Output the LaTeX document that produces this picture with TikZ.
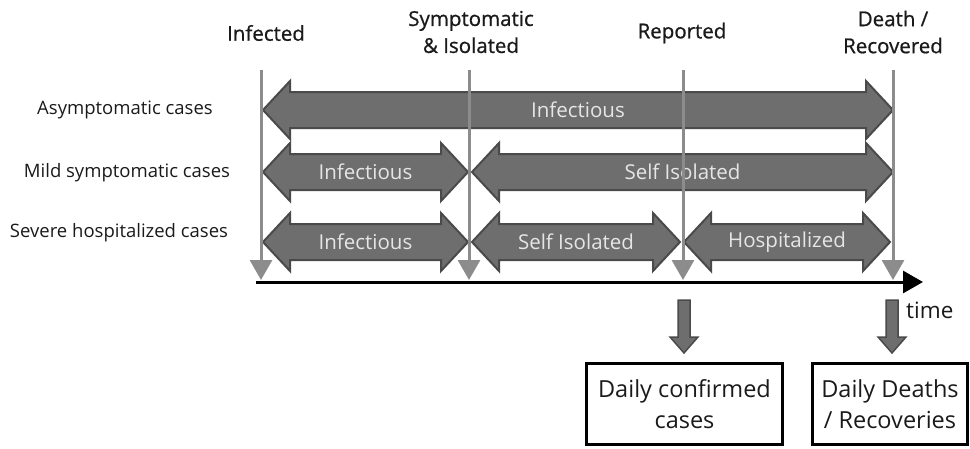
\documentclass[tikz,border=0pt]{standalone}
\usepackage{fontspec}
\setmainfont{Open Sans}
\newfontfamily\hdrfont{Open Sans}[FakeBold=0.8]
\usetikzlibrary{arrows.meta}
\definecolor{arrfill}{HTML}{6E6E6E}
\definecolor{arrline}{HTML}{4A4A4A}
\definecolor{vline}{HTML}{8C8C8C}
\definecolor{arrtext}{HTML}{E6E6E6}
\definecolor{ink}{HTML}{1A1A1A}
% #1 left tip x, #2 right tip x, #3 centre y, #4 text, #5 name
\newcommand\phasearrow[5]{%
  \draw[phasebox] (#1,#3) -- (#1+27,#3-29) -- (#1+27,#3-18) -- (#2-27,#3-18)
    -- (#2-27,#3-29) -- (#2,#3) -- (#2-27,#3+29) -- (#2-27,#3+18)
    -- (#1+27,#3+18) -- (#1+27,#3+29) -- cycle;
  \node[phasetext] (#5) at ({(#1+#2)/2},#3) {#4};}
% #1 centre x, #2 top y, #3 name
\newcommand\downblock[3]{%
  \draw[phasebox, line width=1.5pt] (#1-6,#2) -- (#1+6,#2) -- (#1+6,#2+37) -- (#1+14,#2+37)
    -- (#1,#2+53) -- (#1-14,#2+37) -- (#1-6,#2+37) -- cycle;
  \coordinate (#3) at (#1,#2+53);}
\begin{document}
\begin{tikzpicture}[x=1pt,y=-1pt,
  phasebox/.style={draw=arrline, fill=arrfill, line width=2pt, line join=miter},
  phasetext/.style={text=arrtext, font=\fontsize{20.5}{20.5}\selectfont, inner sep=0pt},
  marker/.style={draw=vline, line width=3pt, -{Triangle[width=22pt,length=20pt]}},
  timeline/.style={draw=black, line width=3pt, -{Triangle[width=22pt,length=20pt]}},
  header/.style={text=ink, font=\hdrfont\fontsize{20.5}{27}\selectfont, align=center, inner sep=0pt},
  rowlabel/.style={text=ink, font=\fontsize{18.5}{20}\selectfont, inner sep=0pt},
  outbox/.style={draw=black, line width=3.5pt, align=center, text=ink,
    font=\fontsize{23.5}{31}\selectfont, inner sep=0pt},
]
\useasboundingbox (0,0) rectangle (970,448);

% headers
\node[header] (h1) at (266,33) {Infected};
\node[header] (h2) at (471,32) {Symptomatic\\\& Isolated};
\node[header] (h3) at (682,33) {Reported};
\node[header] (h4) at (893,32) {Death /\\Recovered};

% row labels
\node[rowlabel] (l1) at (125,110) {Asymptomatic cases};
\node[rowlabel] (l2) at (127,173) {Mild symptomatic cases};
\node[rowlabel] (l3) at (119,233) {Severe hospitalized cases};

% phase arrows
\phasearrow{263}{893}{110}{Infectious}{r1a}
\phasearrow{263}{468}{172}{Infectious}{r2a}
\phasearrow{472}{893}{172}{Self Isolated}{r2b}
\phasearrow{263}{468}{242}{Infectious}{r3a}
\phasearrow{472}{680}{242}{Self Isolated}{r3b}
\phasearrow{684}{890}{242}{Hospitalized}{r3c}

% event markers
\coordinate (t1) at (261,70);  \coordinate (b1) at (261,280);
\coordinate (t2) at (469,70);  \coordinate (b2) at (469,280);
\coordinate (t3) at (683,70);  \coordinate (b3) at (683,280);
\coordinate (t4) at (893,70);  \coordinate (b4) at (893,280);
\draw[marker] (t1) -- (b1);
\draw[marker] (t2) -- (b2);
\draw[marker] (t3) -- (b3);
\draw[marker] (t4) -- (b4);

% time axis
\coordinate (ts) at (256,282);
\coordinate (te) at (923,282);
\draw[timeline] (ts) -- (te);
\node[text=ink, font=\fontsize{22.5}{22}\selectfont, anchor=west, inner sep=0pt] (time) at (906,310) {time};

% outputs
\downblock{684}{300}{d1}
\downblock{892}{300}{d2}
\node[outbox, minimum width=196pt, minimum height=81pt] (c1) at (684.5,404) {Daily confirmed\\cases};
\node[outbox, minimum width=155pt, minimum height=81pt] (c2) at (890,404) {Daily Deaths\\/ Recoveries};
\end{tikzpicture}
\end{document}
